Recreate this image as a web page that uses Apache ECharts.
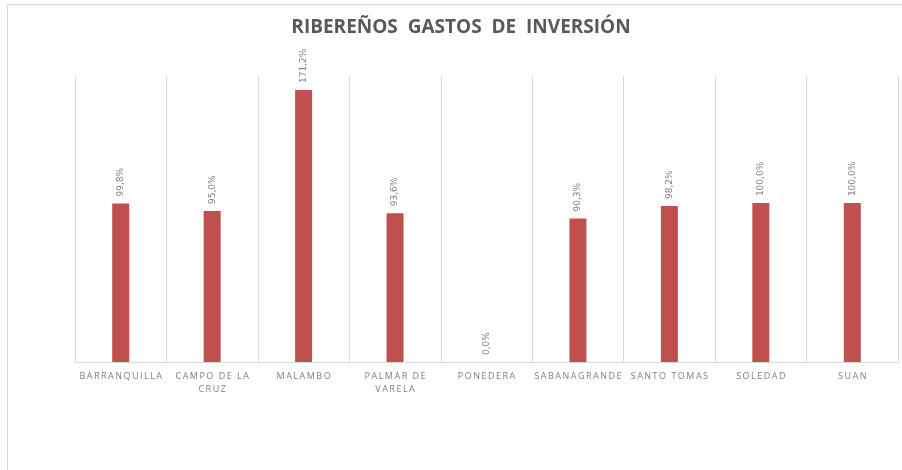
<!DOCTYPE html>
<html>
<head>
<meta charset="utf-8">
<script src="https://cdn.jsdelivr.net/npm/echarts@6/dist/echarts.min.js"></script>
<style>
	html, body { margin: 0; padding: 0; background: #fff; }
	#chart { width: 902px; height: 470px; }
</style>
</head>
<body>
<div id="chart"></div>
<script>
var titleText = 'RIBEREÑOS  GASTOS  DE  INVERSIÓN';
var categories = ['BARRANQUILLA', 'CAMPO DE LA\nCRUZ', 'MALAMBO', 'PALMAR DE\nVARELA', 'PONEDERA',
	'SABANAGRANDE', 'SANTO TOMAS', 'SOLEDAD', 'SUAN'];
var values = [99.8, 95.0, 171.2, 93.6, 0.0, 90.3, 98.2, 100.0, 100.0];
var yMax = 180;

// espaciado entre letras como en el original
function spaced(s, sp) {
	return s.split('\n').map(function(line) {
		return line.split('').join(sp);
	}).join('\n');
}

var chart = echarts.init(document.getElementById('chart'));
var option = {
	backgroundColor : '#fff',
	animation : false,
	title : {
		text : titleText,
		left : 456,
		top : 13,
		textAlign : 'center',
		textStyle : {
			fontFamily : 'Open Sans',
			fontWeight : 'bold',
			fontSize : 19,
			color : '#595959'
		}
	},
	graphic : [ {
		type : 'rect',
		shape : { x : 7.5, y : 4.5, width : 1000, height : 500 },
		style : { fill : 'none', stroke : '#d9d9d9', lineWidth : 1 },
		silent : true
	} ],
	grid : {
		left : 75,
		right : 4,
		top : 76,
		bottom : 108
	},
	xAxis : {
		type : 'category',
		data : categories,
		axisLine : { lineStyle : { color : '#d9d9d9' } },
		axisTick : { show : false },
		splitLine : { show : true, lineStyle : { color : '#d9d9d9' } },
		axisLabel : {
			interval : 0,
			margin : 8,
			fontFamily : 'Open Sans',
			fontSize : 9,
			lineHeight : 13,
			color : '#7f7f7f',
			formatter : function(v) { return spaced(v, '\u2009'); }
		}
	},
	yAxis : {
		type : 'value',
		min : 0,
		max : yMax,
		show : false,
		splitLine : { show : false }
	},
	series : [ {
		type : 'bar',
		data : values,
		barWidth : 17,
		itemStyle : { color : '#c0504d' },
		label : {
			show : true,
			position : 'top',
			rotate : 90,
			align : 'left',
			verticalAlign : 'middle',
			distance : 7,
			fontFamily : 'DejaVu Sans',
			fontSize : 9,
			color : '#7f7f7f',
			formatter : function(p) {
				return p.value.toFixed(1).replace('.', ',') + '%';
			}
		}
	} ]
};
chart.setOption(option);
</script>
</body>
</html>
